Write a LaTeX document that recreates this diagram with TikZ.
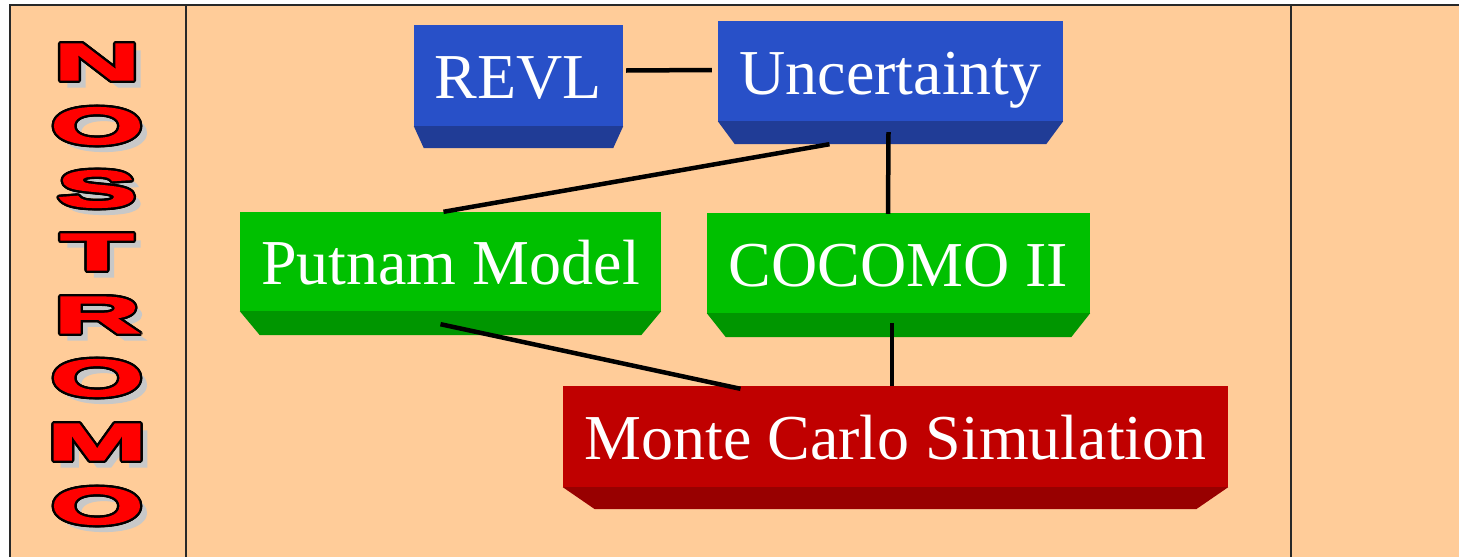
\documentclass[tikz,border=0pt]{standalone}
\usepackage{fontspec}
\setmainfont{Liberation Serif}
\newfontfamily\letterfont{Liberation Sans Bold}[FakeBold=2.5]
\usetikzlibrary{calc}
\definecolor{peach}{RGB}{255,204,153}
\definecolor{bluefront}{RGB}{40,80,200}
\definecolor{bluebevel}{RGB}{32,60,150}
\definecolor{greenfront}{RGB}{0,192,0}
\definecolor{greenbevel}{RGB}{0,150,0}
\definecolor{redfront}{RGB}{192,0,0}
\definecolor{redbevel}{RGB}{152,0,0}
\definecolor{framecol}{RGB}{40,40,40}
\definecolor{shadowgray}{RGB}{200,200,200}
\definecolor{letterred}{RGB}{255,0,0}
\tikzset{
  front/.style={rectangle, inner sep=0pt, text=white, text height=46pt, text depth=0pt,
    font=\fontsize{64}{70}\selectfont},
  conn/.style={line width=4.5pt, black},
  frameline/.style={line width=1.5pt, framecol},
  lettertext/.style={inner sep=0pt, font=\letterfont\fontsize{52}{60}\selectfont},
  lettershadow/.style={lettertext, text=shadowgray},
  letterline/.style={lettertext, text=black},
  letterfill/.style={lettertext, text=letterred},
}
\newcommand{\bevelface}[4]{% node, inset, depth, colour
  \fill[#4] (#1.south west) -- (#1.south east)
    -- ($(#1.south east)+(-#2,#3)$) -- ($(#1.south west)+(#2,#3)$) -- cycle;}
\newcommand{\bigletter}[4]{% name, x, y, letter
  \node[lettershadow] at (#2+7,#3+7) {\scalebox{2.3}[1]{#4}};
  \foreach \ang in {0,22.5,...,337.5}
    \node[letterline] at ($(#2,#3)+(\ang:2.4)$) {\scalebox{2.3}[1]{#4}};
  \node[letterfill] (#1) at (#2,#3) {\scalebox{2.3}[1]{#4}};}
\begin{document}
\begin{tikzpicture}[x=1pt,y=-1pt]
\useasboundingbox (0,0) rectangle (1459,557);
\fill[white] (0,0) rectangle (1459,557);
\fill[peach] (10,5) rectangle (1459,557);
\draw[frameline] (10,557) -- (10,5) -- (1459,5);
\draw[frameline] (186,5) -- (186,557);
\draw[frameline] (1291,5) -- (1291,557);

% NOSTROMO
\bigletter{L1}{97}{62}{N}
\bigletter{L2}{97}{126}{O}
\bigletter{L3}{97}{189}{S}
\bigletter{L4}{97}{252}{T}
\bigletter{L5}{97}{315}{R}
\bigletter{L6}{97}{378}{O}
\bigletter{L7}{97}{442}{M}
\bigletter{L8}{97}{506}{O}

% boxes
\node[front, fill=bluefront, minimum width=209pt, minimum height=101pt] (R) at (518.5,75.5) {REVL};
\node[front, fill=bluefront, minimum width=345pt, minimum height=100pt] (U) at (890.5,71) {Uncertainty};
\node[front, fill=greenfront, minimum width=421pt, minimum height=99pt] (P) at (450.5,261.5) {Putnam Model};
\node[front, fill=greenfront, minimum width=383pt, minimum height=100pt] (C) at (898.5,263) {COCOMO II};
\node[front, fill=redfront, minimum width=665pt, minimum height=101pt] (M) at (895.5,436.5) {Monte Carlo Simulation};
\bevelface{R}{10}{22}{bluebevel}
\bevelface{U}{17}{23}{bluebevel}
\bevelface{P}{20}{24}{greenbevel}
\bevelface{C}{19}{24}{greenbevel}
\bevelface{M}{32}{22}{redbevel}

% connectors
\draw[conn] ($(R.east)+(3,-5)$) -- ($(U.west)+(-6,-1)$);
\draw[conn] ($(U.south)+(-61,23)$) -- ($(P.north)+(-7,0)$);
\draw[conn] ($(U.south)+(-2,11)$) -- ($(C.north)+(-10.5,1)$);
\draw[conn] ($(P.south)+(-10,13)$) -- ($(M.north)+(-155,3)$);
\draw[conn] ($(C.south)+(-6.5,10)$) -- ($(M.north)+(-3.5,0)$);
\end{tikzpicture}
\end{document}
